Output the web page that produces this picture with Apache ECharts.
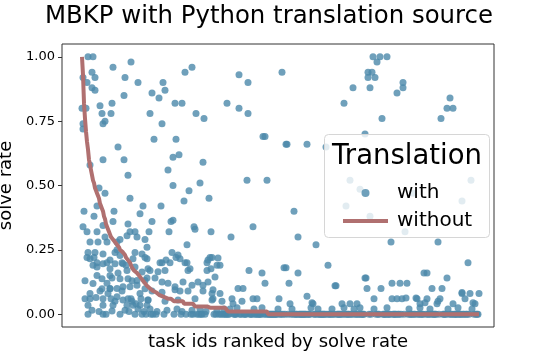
<!DOCTYPE html>
<html>
<head>
<meta charset="utf-8">
<script src="https://cdn.jsdelivr.net/npm/echarts@6/dist/echarts.min.js"></script>
<style>
  html, body { margin: 0; padding: 0; background: #fff; }
  #chart { width: 548px; height: 361px; }
</style>
</head>
<body>
<div id="chart"></div>
<script>
// number of tasks, ranked 0..N-1 by solve rate without translation
var N = 398;
var yTicks = [0, 0.25, 0.5, 0.75, 1];

// solve rate without translation, as runs of [value, count] in rank order
var withoutRuns = [
  [1.00,1],[0.93,1],[0.82,1],[0.76,1],[0.71,1],[0.67,1],[0.64,1],[0.60,1],[0.58,1],[0.56,1],
  [0.54,1],[0.52,1],[0.51,1],[0.49,1],[0.48,1],[0.47,1],[0.46,1],[0.45,1],[0.43,1],[0.42,1],
  [0.41,1],[0.40,1],[0.38,1],[0.37,1],[0.35,1],[0.34,1],[0.33,1],[0.32,1],[0.31,1],[0.30,2],
  [0.29,2],[0.28,2],[0.27,2],[0.26,1],[0.25,2],[0.245,1],[0.24,2],[0.23,1],[0.22,1],[0.215,1],
  [0.21,1],[0.205,1],[0.20,1],[0.19,1],[0.18,1],[0.176,1],[0.17,2],[0.165,1],[0.16,1],[0.155,1],
  [0.15,1],[0.144,1],[0.14,1],[0.135,1],[0.13,1],[0.125,1],[0.12,1],[0.115,1],[0.11,2],[0.105,1],
  [0.10,2],[0.095,1],[0.09,2],[0.085,2],[0.08,2],[0.075,2],[0.07,2],[0.065,3],[0.06,8],[0.05,10],
  [0.04,11],[0.03,15],[0.025,18],[0.01,40]
];

// solve rate with translation: [rank, rate] for the tasks above zero
var withPoints = [
  // top-left
  [6,1.0],[11,1.0],[31,0.96],[49,0.98],[10,0.94],[1,0.92],[13,0.92],[43,0.92],[56,0.90],[5,0.90],
  [10,0.88],[13,0.87],[42,0.85],[30,0.82],[18,0.81],[0,0.80],[4,0.80],[20,0.78],[29,0.78],[23,0.75],
  [21,0.74],[1,0.74],[1,0.72],[36,0.65],[21,0.60],[42,0.60],[8,0.58],[46,0.54],[17,0.49],[23,0.47],
  [48,0.45],[15,0.42],[61,0.42],[2,0.40],[32,0.40],[12,0.38],[58,0.39],
  [1,0.34],[5,0.32],[15,0.32],[21,0.345],[31,0.36],[46,0.35],[48,0.32],[45,0.305],[53,0.32],[55,0.30],
  [8,0.28],[16,0.28],[25,0.28],[23,0.30],[35,0.28],[38,0.29],[63,0.29],
  [6,0.24],[13,0.24],[8,0.215],[5,0.22],[21,0.234],[28,0.21],[33,0.24],[38,0.228],[53,0.24],[60,0.234],
  [65,0.215],[51,0.215],[35,0.25],[40,0.20],[44,0.19],[12,0.22],[15,0.20],[25,0.20],
  [11,0.19],[15,0.183],[21,0.196],[28,0.176],[33,0.196],[41,0.196],[45,0.17],[53,0.183],[60,0.164],[66,0.176],
  [15,0.15],[20,0.138],[11,0.119],[28,0.15],[38,0.138],[46,0.138],[55,0.131],[63,0.131],
  [20,0.099],[28,0.099],[35,0.10],[41,0.106],[48,0.106],[55,0.112],[63,0.099],[8,0.08],[26,0.08],
  [3,0.06],[8,0.06],[14,0.065],[21,0.06],[29,0.06],[35,0.068],[41,0.055],[49,0.06],[59,0.06],[66,0.055],
  [6,0.035],[21,0.035],[31,0.035],[45,0.035],[51,0.035],[58,0.035],[65,0.035],
  [10,0.015],[17,0.01],[30,0.012],[43,0.015],[47,0.01],[56,0.02],[62,0.01],
  [28,0.1],[33,0.05],[40,0.09],[46,0.06],[50,0.05],[54,0.04],[18,0.09],[3,0.13],[25,0.12],[30,0.14],
  [50,0.13],[36,0.16],[58,0.08],
  // ranks 60-140
  [103,0.94],[110,0.96],[81,0.90],[83,0.87],[70,0.86],[77,0.84],[93,0.82],[100,0.82],[68,0.78],[114,0.78],
  [122,0.76],[80,0.74],[72,0.68],[94,0.68],[97,0.62],[91,0.61],[121,0.59],[86,0.56],[118,0.51],[91,0.50],
  [107,0.48],[127,0.45],[102,0.44],[79,0.42],[70,0.36],[89,0.36],[91,0.365],[112,0.34],[67,0.32],[87,0.32],
  [129,0.32],[113,0.33],[65,0.26],[63,0.22],[105,0.27],[90,0.24],[94,0.22],[84,0.21],[88,0.20],[80,0.20],
  [105,0.20],[108,0.176],[128,0.22],[126,0.21],[129,0.176],
  [96,0.23],[98,0.215],[78,0.20],[103,0.20],[125,0.20],[136,0.218],[135,0.19],
  [83,0.17],[106,0.17],[125,0.17],[133,0.144],[68,0.17],[76,0.165],
  [73,0.14],[80,0.125],[86,0.12],[93,0.106],[101,0.125],[110,0.112],[116,0.125],[121,0.112],[126,0.125],[65,0.14],
  [70,0.09],[80,0.085],[93,0.095],[98,0.09],[106,0.09],[121,0.09],[131,0.095],[138,0.08],
  [66,0.055],[83,0.05],[96,0.055],[113,0.06],[130,0.055],[140,0.05],
  [68,0.02],[75,0.01],[85,0.015],[95,0.02],[100,0.01],[110,0.015],[118,0.02],[124,0.01],[135,0.015],[142,0.02],
  // ranks 140-210
  [157,0.93],[166,0.90],[200,0.94],[145,0.82],[157,0.80],[166,0.78],[181,0.69],[183,0.69],[204,0.66],
  [165,0.52],[185,0.52],[149,0.30],[171,0.34],[130,0.22],[138,0.19],[167,0.17],[180,0.16],[183,0.12],
  [202,0.18],[156,0.10],[161,0.10],[150,0.06],[160,0.05],[171,0.06],[175,0.06],[197,0.06],[130,0.08],[131,0.06],
  // ranks 200-400
  [207,0.12],[253,0.11],[284,0.14],[365,0.14],[285,0.10],[299,0.10],[310,0.12],[318,0.12],[325,0.12],
  [350,0.10],[360,0.10],[225,0.07],[292,0.06],[310,0.06],[315,0.06],[320,0.06],[335,0.06],[345,0.06],
  [358,0.06],[380,0.08],[388,0.08],[397,0.08],[383,0.06],
  [151,0.04],[208,0.04],[231,0.04],[260,0.04],[268,0.04],[275,0.04],[338,0.04],[355,0.04],[371,0.04],[393,0.04],
  [271,0.88],[262,0.82],[205,0.66],[225,0.66],[244,0.65],[212,0.40],[216,0.30],[234,0.27],[204,0.18],
  [216,0.16],[246,0.19],[254,0.11],[230,0.044],[268,0.52],[264,0.42],
  [291,1.0],[298,1.0],[305,1.0],[295,0.98],[286,0.94],[290,0.94],[286,0.92],[293,0.92],[288,0.88],
  [321,0.90],[321,0.88],[315,0.86],[300,0.76],[283,0.70],[278,0.485],[331,0.47],[288,0.38],[323,0.32],
  [309,0.28],[283,0.14],[342,0.16],[324,0.063],[334,0.063],
  [368,0.84],[365,0.80],[371,0.80],[359,0.76],[389,0.52],[380,0.44],[356,0.28],[386,0.20],[345,0.16],
  [380,0.084],[343,0.044],[356,0.05],[391,0.044],
  [148,0.02],[155,0.025],[172,0.02],[180,0.025],[196,0.02],[210,0.02],[229,0.025],[236,0.02],[250,0.02],
  [262,0.025],[272,0.02],[278,0.025],[292,0.02],[305,0.025],[327,0.02],[338,0.025],[348,0.02],[366,0.02],
  [376,0.025],[390,0.02]
];
// tasks below this rank that sit at zero with translation
var zeroRanksLow = [6, 21, 24, 38, 53, 60];
var zeroFromRank = 64; // from here on every task not listed above is at zero

var withoutData = [];
withoutRuns.forEach(function (run) {
  for (var k = 0; k < run[1]; k++) withoutData.push([withoutData.length, run[0]]);
});
while (withoutData.length < N) withoutData.push([withoutData.length, 0]);

var listed = {};
withPoints.forEach(function (p) { listed[p[0]] = true; });
var withData = withPoints.slice();
zeroRanksLow.forEach(function (r) { withData.push([r, 0]); });
for (var r = zeroFromRank; r < N; r++) {
  if (!listed[r]) withData.push([r, 0]);
}

var font = 'DejaVu Sans';
var chart = echarts.init(document.getElementById('chart'));
var option = {
  animation: false,
  backgroundColor: '#fff',
  textStyle: { fontFamily: font },
  title: {
    text: 'MBKP with Python translation source',
    left: 264,
    top: 0,
    textAlign: 'center',
    textStyle: { fontFamily: font, fontSize: 24.4, fontWeight: 'normal', color: '#000' }
  },
  grid: {
    left: 62, right: 54, top: 44, bottom: 34,
    outerBoundsMode: 'none',
    containLabel: false,
    show: true, borderColor: '#333', borderWidth: 1, backgroundColor: 'transparent'
  },
  xAxis: {
    type: 'value',
    min: -20, max: 412,
    name: 'task ids ranked by solve rate',
    nameLocation: 'middle',
    nameGap: 6,
    nameTextStyle: { fontFamily: font, fontSize: 18, color: '#000', verticalAlign: 'top' },
    axisLine: { show: false, onZero: false },
    axisTick: { show: false },
    axisLabel: { show: false },
    splitLine: { show: false }
  },
  yAxis: {
    type: 'value',
    min: -0.05, max: 1.05,
    name: 'solve rate',
    nameLocation: 'middle',
    nameGap: 46,
    nameTextStyle: { fontFamily: font, fontSize: 18, color: '#000' },
    axisLine: { show: false, onZero: false },
    axisTick: { show: true, length: 4, lineStyle: { color: '#333' }, customValues: yTicks },
    axisLabel: {
      fontFamily: font, fontSize: 13, color: '#000', margin: 7,
      customValues: yTicks,
      formatter: function (v) { return v.toFixed(2); }
    },
    splitLine: { show: false }
  },
  legend: {
    orient: 'vertical',
    left: 338,
    top: 178,
    itemWidth: 45,
    itemHeight: 8,
    itemGap: 8,
    textStyle: { fontFamily: font, fontSize: 20, color: '#000', padding: [0, 0, 0, 4] },
    data: [
      { name: 'with', icon: 'circle' },
      { name: 'without', icon: 'path://M0,0 L45,0 L45,4 L0,4 Z' }
    ]
  },
  graphic: [
    {
      type: 'rect', z: 3,
      shape: { x: 324.5, y: 134.5, width: 165, height: 103, r: 4 },
      style: { fill: 'rgba(255,255,255,0.8)', stroke: '#d6d6d6', lineWidth: 1 }
    },
    {
      type: 'text', z: 4,
      style: {
        x: 407, y: 157, text: 'Translation',
        font: '27.5px "DejaVu Sans"', fill: '#000',
        textAlign: 'center', textVerticalAlign: 'middle'
      }
    }
  ],
  series: [
    {
      name: 'with',
      type: 'scatter',
      symbolSize: 7,
      z: 2,
      itemStyle: { color: 'rgb(75,136,170)', opacity: 0.8 },
      data: withData
    },
    {
      name: 'without',
      type: 'line',
      symbol: 'none',
      z: 3,
      lineStyle: { color: '#b07070', width: 4 },
      itemStyle: { color: '#b07070' },
      data: withoutData
    }
  ]
};
chart.setOption(option);
</script>
</body>
</html>
